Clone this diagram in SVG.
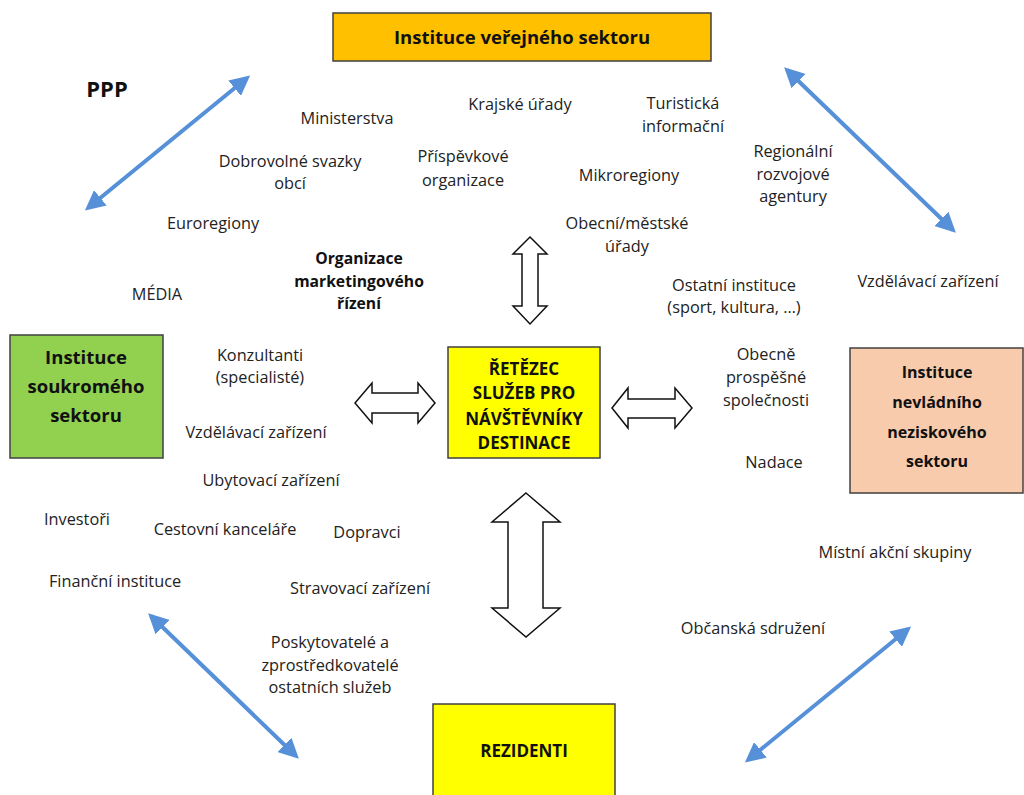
<svg xmlns="http://www.w3.org/2000/svg" width="1024" height="795" viewBox="0 0 1024 795">
<defs>
<style>
.t{font-family:"Open Sans","Liberation Sans",sans-serif;font-size:16.3px;fill:#222;text-anchor:middle}
.b{font-family:"Open Sans","Liberation Sans",sans-serif;font-weight:bold;font-size:17px;fill:#111;text-anchor:middle}
.box{stroke:#404040;stroke-width:1.5}
.blk{fill:#fff;stroke:#111;stroke-width:1.5;stroke-linejoin:miter}
.blue{stroke:#5590D8;stroke-width:4;fill:none;marker-start:url(#ah);marker-end:url(#ah)}
</style>
<marker id="ah" viewBox="0 0 10 10" refX="8" refY="5" markerWidth="5" markerHeight="5" orient="auto-start-reverse" markerUnits="strokeWidth">
<path d="M0,0 L10,5 L0,10 z" fill="#5590D8"/>
</marker>
</defs>

<g id="verejny">
<rect class="box" x="333" y="13" width="378" height="48" fill="#FFC000"/>
<text class="b" x="522" y="44" style="font-size:18.5px">Instituce veřejného sektoru</text>
</g>
<g id="soukromy">
<rect class="box" x="10" y="335" width="153" height="123" fill="#92D050"/>
<text class="b" x="86" y="364" style="font-size:18.5px">Instituce</text>
<text class="b" x="86" y="393" style="font-size:18.5px">soukromého</text>
<text class="b" x="86" y="422" style="font-size:18.5px">sektoru</text>
</g>
<g id="nevladni">
<rect class="box" x="850" y="348" width="173" height="145" fill="#F8CBAD"/>
<text class="b" x="937" y="378" style="font-size:16px">Instituce</text>
<text class="b" x="937" y="408" style="font-size:16px">nevládního</text>
<text class="b" x="937" y="438" style="font-size:16px">neziskového</text>
<text class="b" x="937" y="467" style="font-size:16px">sektoru</text>
</g>
<g id="retezec">
<rect class="box" x="448" y="347" width="152" height="111" fill="#FFFF00"/>
<text class="b" x="524" y="375">ŘETĚZEC</text>
<text class="b" x="524" y="399">SLUŽEB PRO</text>
<text class="b" x="524" y="425">NÁVŠTĚVNÍKY</text>
<text class="b" x="524" y="449">DESTINACE</text>
</g>
<g id="rezidenti">
<rect class="box" x="433" y="704" width="182" height="100" fill="#FFFF00"/>
<text class="b" x="524" y="757">REZIDENTI</text>
</g>

<g id="connectors">
<polygon class="blk" points="530,237 547,254 538,254 538,306 547,306 530,324 513,306 522,306 522,254 513,254"/>
<polygon class="blk" points="526,493 560,522 543,522 543,608 560,608 526,637 492,608 508,608 508,522 492,522"/>
<polygon class="blk" points="355,403 372,383 372,393 418,393 418,383 435,403 418,423 418,413 372,413 372,423"/>
<polygon class="blk" points="612,408 628,388 628,399 675,399 675,388 692,408 675,428 675,418 628,418 628,428"/>
<line class="blue" x1="88" y1="208" x2="247" y2="78"/>
<line class="blue" x1="787" y1="70" x2="953" y2="230"/>
<line class="blue" x1="151" y1="616" x2="296" y2="756"/>
<line class="blue" x1="908" y1="629" x2="748" y2="760"/>
</g>

<g id="labels">
<text class="b" x="107" y="97" style="font-size:22px">PPP</text>
<text class="t" x="347" y="124">Ministerstva</text>
<text class="t" x="520" y="110">Krajské úřady</text>
<text class="t" x="683" y="109">Turistická</text>
<text class="t" x="683" y="132">informační</text>
<text class="t" x="290" y="167">Dobrovolné svazky</text>
<text class="t" x="290" y="189">obcí</text>
<text class="t" x="463" y="162">Příspěvkové</text>
<text class="t" x="463" y="186">organizace</text>
<text class="t" x="629" y="181">Mikroregiony</text>
<text class="t" x="793" y="157">Regionální</text>
<text class="t" x="793" y="180">rozvojové</text>
<text class="t" x="793" y="202">agentury</text>
<text class="t" x="213" y="229">Euroregiony</text>
<text class="t" x="627" y="229">Obecní/městské</text>
<text class="t" x="627" y="252">úřady</text>
<text class="b" x="359" y="264" style="font-size:15.7px">Organizace</text>
<text class="b" x="359" y="287" style="font-size:15.7px">marketingového</text>
<text class="b" x="359" y="309" style="font-size:15.7px">řízení</text>
<text class="t" x="157" y="300">MÉDIA</text>
<text class="t" x="734" y="291">Ostatní instituce</text>
<text class="t" x="734" y="313">(sport, kultura, …)</text>
<text class="t" x="928" y="287">Vzdělávací zařízení</text>
<text class="t" x="260" y="361">Konzultanti</text>
<text class="t" x="260" y="383">(specialisté)</text>
<text class="t" x="766" y="360">Obecně</text>
<text class="t" x="766" y="383">prospěšné</text>
<text class="t" x="766" y="406">společnosti</text>
<text class="t" x="256" y="438">Vzdělávací zařízení</text>
<text class="t" x="774" y="468">Nadace</text>
<text class="t" x="271" y="486">Ubytovací zařízení</text>
<text class="t" x="77" y="525">Investoři</text>
<text class="t" x="225" y="535">Cestovní kanceláře</text>
<text class="t" x="367" y="538">Dopravci</text>
<text class="t" x="895" y="558">Místní akční skupiny</text>
<text class="t" x="115" y="587">Finanční instituce</text>
<text class="t" x="360" y="594">Stravovací zařízení</text>
<text class="t" x="753" y="634">Občanská sdružení</text>
<text class="t" x="330" y="648">Poskytovatelé a</text>
<text class="t" x="330" y="671">zprostředkovatelé</text>
<text class="t" x="330" y="693">ostatních služeb</text>
</g>
</svg>
